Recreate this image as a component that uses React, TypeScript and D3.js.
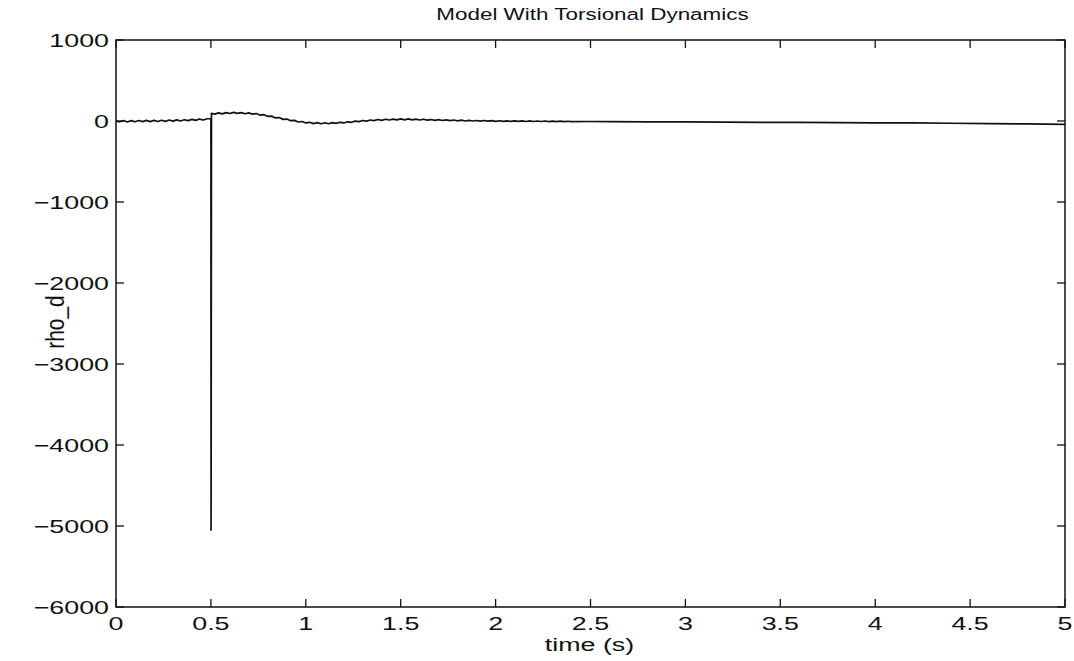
import React from "react";
import * as d3 from "d3";

const W = 1074;
const H = 661;

const xTicks = [0, 0.5, 1, 1.5, 2, 2.5, 3, 3.5, 4, 4.5, 5];
const yTicks = [1000, 0, -1000, -2000, -3000, -4000, -5000, -6000];

const times = [
  0.0, 0.02, 0.04, 0.06, 0.08, 0.1, 0.12, 0.14, 0.16, 0.18, 0.2, 0.22, 0.24, 0.26, 0.28, 0.3,
  0.32, 0.34, 0.36, 0.38, 0.4, 0.42, 0.44, 0.46, 0.48, 0.5, 0.501, 0.503,
  0.52, 0.54, 0.56, 0.58, 0.6, 0.62, 0.64, 0.66, 0.68, 0.7, 0.72, 0.74, 0.76, 0.78, 0.8,
  0.82, 0.84, 0.86, 0.88, 0.9, 0.92, 0.94, 0.96, 0.98, 1.0, 1.02, 1.04, 1.06, 1.08, 1.1,
  1.12, 1.14, 1.16, 1.18, 1.2, 1.22, 1.24, 1.26, 1.28, 1.3, 1.32, 1.34, 1.36, 1.38, 1.4,
  1.42, 1.44, 1.46, 1.48, 1.5, 1.52, 1.54, 1.56, 1.58, 1.6, 1.62, 1.64, 1.66, 1.68, 1.7,
  1.72, 1.74, 1.76, 1.78, 1.8, 1.82, 1.84, 1.86, 1.88, 1.9, 1.92, 1.94, 1.96, 1.98, 2.0,
  2.02, 2.04, 2.06, 2.08, 2.1, 2.12, 2.14, 2.16, 2.18, 2.2, 2.22, 2.24, 2.26, 2.28, 2.3,
  2.32, 2.34, 2.36, 2.38, 2.4, 2.5, 2.6, 2.8, 3.0, 3.2, 3.4, 3.6, 3.8, 4.0, 4.2, 4.4, 4.6,
  4.8, 5.0,
];

const rhoD = [
  0, -10, 6, -12, 4, -10, 6, -8, 8, -8, 8, -6, 10, -4, 12, -2,
  14, 0, 16, 4, 20, 8, 24, 12, 28, 28, -5050, 95,
  85, 100, 88, 104, 92, 106, 94, 104, 90, 100, 84, 92, 72, 78, 56,
  60, 38, 42, 20, 24, 4, 8, -12, -6, -24, -16, -32, -20, -34, -22,
  -34, -20, -30, -16, -24, -10, -16, -2, -8, 6, -2, 12, 4, 18, 8,
  22, 12, 24, 14, 26, 14, 26, 14, 24, 12, 22, 10, 18, 8, 16,
  6, 14, 4, 12, 2, 10, 0, 8, 0, 6, -2, 6, -2, 4, -4,
  3, -4, 2, -5, 2, -5, 1, -6, 1, -6, 0, -6, 0, -7, -1,
  -7, -2, -7, -3, -7, -6, -8, -10, -12, -14, -16, -18, -20, -22, -24, -28, -32,
  -36, -42,
];

export default function App() {
  const left = 116;
  const right = 1065;
  const top = 40;
  const bottom = 607;

  const x = d3.scaleLinear().domain([0, 5]).range([left, right]);
  const y = d3.scaleLinear().domain([-6000, 1000]).range([bottom, top]);

  const pts: [number, number][] = times.map((t, i) => [t, rhoD[i]]);
  const line = d3
    .line<[number, number]>()
    .x((d) => x(d[0]))
    .y((d) => y(d[1]));

  const font = "'Liberation Sans', Arial, Helvetica, sans-serif";
  const fmt = (v: number) => (v < 0 ? "\u2212" + Math.abs(v) : String(v));
  const tickLen = 8;
  const sx = 1.45;
  const fs = 18.5;

  return (
    <svg
      width={W}
      height={H}
      style={{ position: "absolute", left: 0, top: 0, background: "#fff" }}
      fontFamily={font}
    >
      <rect x={0} y={0} width={W} height={H} fill="#fff" />
      <text
        transform={`translate(${(left + right) / 2 + 2}, 20) scale(1.32, 1)`}
        textAnchor="middle"
        fontSize={17}
        fill="#111"
      >
        Model With Torsional Dynamics
      </text>

      {xTicks.map((t) => (
        <g key={"xt" + t}>
          <line x1={x(t)} x2={x(t)} y1={bottom} y2={bottom - tickLen} stroke="#111" strokeWidth={1.3} />
          <line x1={x(t)} x2={x(t)} y1={top} y2={top + tickLen} stroke="#111" strokeWidth={1.3} />
          <text
            transform={`translate(${x(t)}, ${bottom + 23}) scale(${sx}, 1)`}
            textAnchor="middle"
            fontSize={fs}
            fill="#111"
          >
            {String(t)}
          </text>
        </g>
      ))}
      {yTicks.map((v) => (
        <g key={"yt" + v}>
          <line x1={left} x2={left + tickLen} y1={y(v)} y2={y(v)} stroke="#111" strokeWidth={1.3} />
          <line x1={right} x2={right - tickLen} y1={y(v)} y2={y(v)} stroke="#111" strokeWidth={1.3} />
          <text
            transform={`translate(${left - 7}, ${y(v) + 6.5}) scale(${sx}, 1)`}
            textAnchor="end"
            fontSize={fs}
            fill="#111"
          >
            {fmt(v)}
          </text>
        </g>
      ))}

      <path d={line(pts) || ""} fill="none" stroke="#111" strokeWidth={1.7} strokeLinejoin="round" />

      <rect x={left} y={top} width={right - left} height={bottom - top} fill="none" stroke="#111" strokeWidth={1.5} />

      <text
        transform={`translate(${(left + right) / 2 - 1}, 651) scale(${sx}, 1)`}
        textAnchor="middle"
        fontSize={fs}
        fill="#111"
      >
        time (s)
      </text>
      <text
        transform={`translate(64, 322) rotate(-90) scale(1.1, 1.4)`}
        textAnchor="middle"
        fontSize={19}
        fill="#111"
      >
        rho_d
      </text>
    </svg>
  );
}
